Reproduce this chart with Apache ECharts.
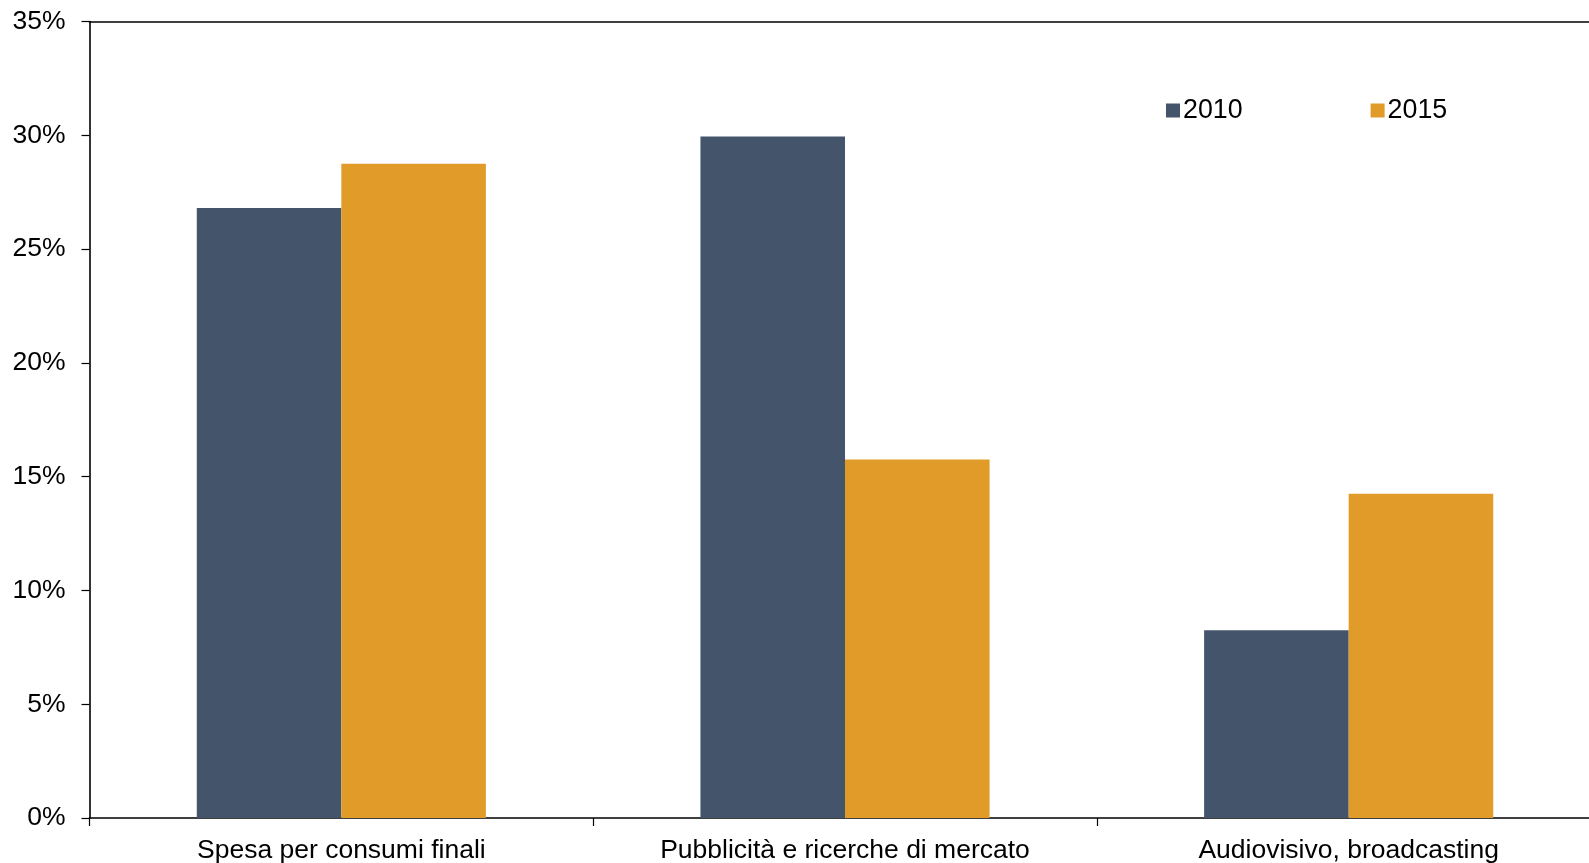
<!DOCTYPE html>
<html>
<head>
<meta charset="utf-8">
<title>Spesa, pubblicità, audiovisivo: 2010 e 2015</title>
<script src="https://cdn.jsdelivr.net/npm/echarts@6/dist/echarts.min.js"></script>
<style>
  html, body { margin: 0; padding: 0; background: #ffffff; }
  #chart { width: 1589px; height: 863px; }
</style>
</head>
<body>
<div id="chart"></div>
<script>
// Categories and shares (%) per year
const categories = ['Spesa per consumi finali', 'Pubblicità e ricerche di mercato', 'Audiovisivo, broadcasting'];
const values2010 = [26.8, 29.95, 8.25];
const values2015 = [28.75, 15.75, 14.25];
const seriesNames = ['2010', '2015'];
const yTicks = [0, 5, 10, 15, 20, 25, 30, 35];

const FONT = "'Liberation Sans', Arial, Helvetica, sans-serif";
const AXIS_COLOR = '#000000';

const chart = echarts.init(document.getElementById('chart'), null, { renderer: 'canvas' });

chart.setOption({
  animation: false,
  backgroundColor: '#ffffff',
  textStyle: { fontFamily: FONT },
  // plot area runs past the right edge of the canvas
  grid: {
    left: 89.5, width: 1511, top: 21.5, height: 796.5,
    containLabel: false, outerBoundsMode: 'none'
  },
  legend: {
    data: seriesNames,
    left: 1161,
    top: 92,
    itemWidth: 14,
    itemHeight: 14,
    itemGap: 128,
    icon: 'rect',
    textStyle: { fontFamily: FONT, fontSize: 26.8, color: '#000000', padding: [0, 0, 0, -2] }
  },
  xAxis: [
    {
      type: 'category',
      data: categories,
      position: 'bottom',
      axisLine: { show: true, lineStyle: { color: AXIS_COLOR, width: 1.6 } },
      axisTick: { show: true, alignWithLabel: false, length: 8, lineStyle: { color: AXIS_COLOR, width: 1.2 } },
      axisLabel: { show: true, fontFamily: FONT, fontSize: 26.5, color: '#000000', margin: 19, interval: 0 },
      splitLine: { show: false }
    },
    {
      type: 'category',
      data: categories,
      position: 'top',
      axisLine: { show: true, lineStyle: { color: AXIS_COLOR, width: 1.6 } },
      axisTick: { show: false },
      axisLabel: { show: false },
      splitLine: { show: false }
    }
  ],
  yAxis: {
    type: 'value',
    min: yTicks[0],
    max: yTicks[yTicks.length - 1],
    interval: 5,
    axisLine: { show: true, lineStyle: { color: AXIS_COLOR, width: 1.6 } },
    axisTick: { show: true, length: 8, lineStyle: { color: AXIS_COLOR, width: 1.2 } },
    axisLabel: {
      fontFamily: FONT, fontSize: 26.5, color: '#000000', margin: 24,
      formatter: v => v + '%'
    },
    splitLine: { show: false }
  },
  series: [
    {
      name: seriesNames[0],
      type: 'bar',
      data: values2010,
      barGap: '0%',
      barCategoryGap: '42.6%',
      itemStyle: { color: '#44546A' }
    },
    {
      name: seriesNames[1],
      type: 'bar',
      data: values2015,
      barGap: '0%',
      barCategoryGap: '42.6%',
      itemStyle: { color: '#E09B28' }
    }
  ]
});
</script>
</body>
</html>
